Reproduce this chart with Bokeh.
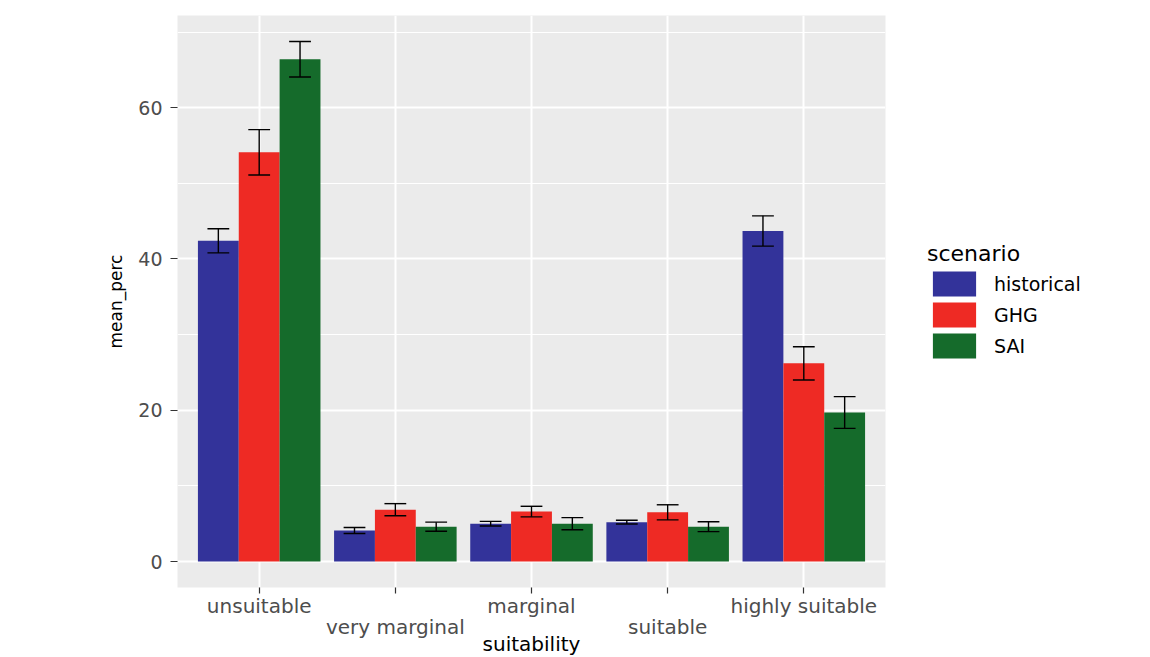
from bokeh.plotting import figure
from bokeh.models import (ColumnDataSource, Range1d, FixedTicker, LinearAxis,
                          Legend, LegendItem)
from bokeh.transform import dodge
from bokeh.embed import file_html
from bokeh.resources import INLINE

# ---- data ----
categories = ["unsuitable", "very marginal", "marginal", "suitable", "highly suitable"]
scenarios = ["historical", "GHG", "SAI"]
historical = [42.4, 4.1, 5.0, 5.2, 43.7]
historical_err = [1.6, 0.4, 0.3, 0.25, 2.0]
ghg = [54.1, 6.85, 6.6, 6.5, 26.2]
ghg_err = [3.0, 0.8, 0.7, 1.0, 2.2]
sai = [66.4, 4.6, 5.0, 4.6, 19.7]
sai_err = [2.35, 0.6, 0.8, 0.65, 2.1]
y_ticks = [0, 20, 40, 60]
y_minor = [10, 30, 50, 70]
colors = ["#33339a", "#ee2a24", "#156b2b"]

series_vals = [historical, ghg, sai]
series_errs = [historical_err, ghg_err, sai_err]

FONT = "DejaVu Sans"
xpos = list(range(1, len(categories) + 1))
ymax = max(v + e for vals, errs in zip(series_vals, series_errs) for v, e in zip(vals, errs))

p = figure(frame_width=708, frame_height=572,
           x_range=Range1d(0.4, len(categories) + 0.6),
           y_range=Range1d(-0.05 * ymax, 1.05 * ymax),
           output_backend="svg", toolbar_location=None,
           min_border_left=177, min_border_top=15, min_border_right=10, min_border_bottom=40,
           background_fill_color="#ebebeb", border_fill_color="white",
           outline_line_color=None)

# grids
p.ygrid.grid_line_color = "white"
p.ygrid.grid_line_width = 2
p.ygrid.minor_grid_line_color = "white"
p.ygrid.minor_grid_line_width = 1
p.xgrid.ticker = FixedTicker(ticks=xpos, minor_ticks=[])
p.xgrid.grid_line_color = "white"
p.xgrid.grid_line_width = 2

# y axis
ya = p.yaxis[0]
ya.ticker = FixedTicker(ticks=y_ticks, minor_ticks=y_minor)
ya.axis_line_color = None
ya.major_tick_line_color = "#333333"
ya.major_tick_line_width = 1.2
ya.major_tick_out = 7
ya.major_tick_in = 0
ya.minor_tick_line_color = None
ya.major_label_text_font = FONT
ya.major_label_text_font_size = "19px"
ya.major_label_text_color = "#4d4d4d"
ya.major_label_standoff = 8
ya.axis_label = "mean_perc"
ya.axis_label_text_font = FONT
ya.axis_label_text_font_size = "17px"
ya.axis_label_text_font_style = "normal"
ya.axis_label_text_color = "black"
ya.axis_label_standoff = 9

# x axis row 1
xa = p.xaxis[0]
xa.ticker = FixedTicker(ticks=xpos, minor_ticks=[])
xa.major_label_overrides = {x: (c if i % 2 == 0 else "") for i, (x, c) in enumerate(zip(xpos, categories))}
xa.axis_line_color = None
xa.major_tick_line_color = "#333333"
xa.major_tick_line_width = 1.2
xa.major_tick_out = 6
xa.major_tick_in = 0
xa.minor_tick_line_color = None
xa.major_label_text_font = FONT
xa.major_label_text_font_size = "20px"
xa.major_label_text_color = "#4d4d4d"
xa.major_label_standoff = 0

# x axis row 2 (dodged labels)
xb = LinearAxis(ticker=FixedTicker(ticks=xpos[1::2], minor_ticks=[]))
xb.major_label_overrides = {x: c for x, c in zip(xpos[1::2], categories[1::2])}
xb.axis_line_color = None
xb.major_tick_line_color = None
xb.major_tick_out = 0
xb.major_tick_in = 0
xb.minor_tick_line_color = None
xb.major_label_text_font = FONT
xb.major_label_text_font_size = "20px"
xb.major_label_text_color = "#4d4d4d"
xb.major_label_standoff = -6
xb.axis_label = "suitability"
xb.axis_label_text_font = FONT
xb.axis_label_text_font_size = "20px"
xb.axis_label_text_font_style = "normal"
xb.axis_label_text_color = "black"
xb.axis_label_standoff = -10
p.add_layout(xb, "below")

# bars and error bars
offsets = [-0.3, 0.0, 0.3]
bar_w = 0.3
cap = 0.08
items = []
for name, vals, errs, col, off in zip(scenarios, series_vals, series_errs, colors, offsets):
    src = ColumnDataSource(dict(
        x=xpos, top=vals,
        lower=[v - e for v, e in zip(vals, errs)],
        upper=[v + e for v, e in zip(vals, errs)]))
    r = p.vbar(x=dodge("x", off, range=p.x_range), top="top", bottom=0, width=bar_w,
               source=src, fill_color=col, line_color=None)
    items.append(LegendItem(label=name, renderers=[r]))
    p.segment(x0=dodge("x", off, range=p.x_range), x1=dodge("x", off, range=p.x_range),
              y0="lower", y1="upper", source=src, line_color="black", line_width=1.4)
    for key in ("lower", "upper"):
        p.segment(x0=dodge("x", off - cap, range=p.x_range), x1=dodge("x", off + cap, range=p.x_range),
                  y0=key, y1=key, source=src, line_color="black", line_width=1.4)

legend = Legend(items=items, location=(42, 226), title="scenario",
                title_text_font=FONT, title_text_font_size="22px", title_text_font_style="normal",
                title_text_color="black", title_standoff=2,
                label_text_font=FONT, label_text_font_size="19px", label_text_color="black",
                glyph_width=54, glyph_height=31, spacing=0, label_standoff=13,
                padding=0, margin=0, border_line_color=None, background_fill_alpha=0)
p.add_layout(legend, "right")

open("out.html", "w").write(file_html(p, INLINE))
